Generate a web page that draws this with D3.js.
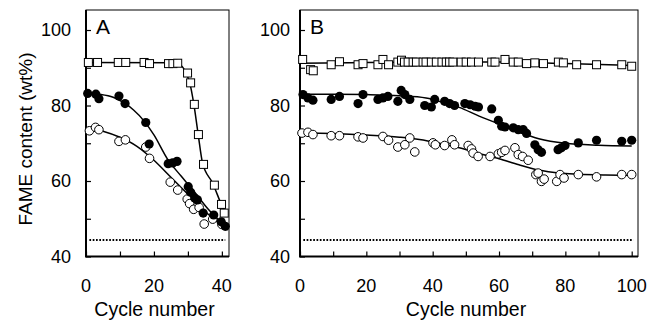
<!DOCTYPE html>
<html>
<head>
<meta charset="utf-8">
<script src="https://d3js.org/d3.v7.min.js"></script>
<style>
  body { margin: 0; background: #fff; }
  svg text { font-family: "Liberation Sans", Arial, sans-serif; fill: #000; }
</style>
</head>
<body>
<svg id="drawing_region"></svg>
<script>
// ---- panel A: open squares, filled circles, open circles ----
const aSquares = [[0.7,91.4],[3.4,91.4],[9.5,91.4],[11.7,91.4],[17.1,91.4],[18.7,91.1],[24.3,91.1],[25.6,91.1],[27,91.2],
                  [29.9,88.6],[30.8,86],[31.9,80.3],[33.1,72.3],[34.6,64.4],[37.8,58.9],[39.9,53.8],[40.7,51.5]];
const aFilled  = [[0.5,83.2],[2.9,83],[3.8,81.8],[9.7,82.5],[11.5,80.5],[17.6,75.5],[18.6,69.8],[24.2,64.6],[25.5,64.8],
                  [26.8,65.2],[30.1,58.5],[30.8,57],[32,55.5],[32.8,55],[34.5,51.5],[37.6,51],[39.8,49.2],[41,48]];
const aOpen    = [[1,73.3],[2.8,74.2],[3.8,73.6],[9.7,70.5],[11.6,70.9],[17.6,69],[18.7,66],[24.8,59.7],[27,57.6],
                  [29.8,55.2],[30.5,54],[31.7,52.5],[33.3,53],[34.8,48.6],[37.3,49.9],[40,48.5]];
const aSquareFit = [[0,91.4],[26,91.3],[28,90.6],[29.5,88.5],[30.6,85.8],[31.7,80.6],[33,72.5],[34.3,64.8],[37.3,59.4],[39.7,54.1],[41.2,51]];
const aFilledFit = [[0,83.3],[4,83],[8,82.2],[11,80.8],[14,78.8],[17,76],[20,72.2],[24,65.8],[28,61.3],[32,57],[36,52.5],[41.2,47.8]];
const aOpenFit   = [[0,74.2],[5,73.2],[10,71.6],[15,69.2],[20,65.5],[25,61],[30,56.5],[35,52],[41.7,47]];

// ---- panel B ----
const bSquares = [[0.8,92.2],[3.2,89.5],[4,89.2],[9.4,90.8],[11.9,91.6],[17.5,90.8],[19,91.1],[23.5,90.8],[25,92.2],[26.7,90.8],
                  [29.5,91.5],[30.6,92],[31.5,91.5],[32.6,91.5],[34.1,91.5],[35.1,91.5],[37.1,91.5],[38,91.5],[39.6,91.5],[41.1,91.5],
                  [42.8,91.5],[44.1,91.5],[45.1,91.5],[46.1,91.5],[48.6,91.5],[50.1,91.5],[51.7,91.5],[53.8,91.5],[57.8,91.5],[58.8,91.5],
                  [61.8,92.2],[64.3,91.5],[65.8,91.5],[68.3,91.1],[70.8,91.3],[73.4,91.1],[77.9,91.5],[79.4,91.3],[83.4,90.8],[89.4,90.8],
                  [97,90.8],[100,90.4]];
const bFilled  = [[0.9,82.9],[2.4,82],[3.9,81.4],[9.4,81.6],[11.9,82.4],[17.5,80.5],[19,82.9],[23.5,81.6],[25,82],[26.5,82.4],
                  [29.5,81.1],[30.5,84],[31.6,82.9],[33.1,81.6],[37.6,80],[39.6,79.6],[40.6,81.6],[43.6,81.1],[45.1,80.5],[46.6,80],
                  [49.7,80.5],[51.3,80.2],[52.8,79.8],[53.8,79.6],[57.8,79.1],[59.8,76.1],[60.8,74.5],[61.8,74.3],[64.3,74.1],[65.8,73.6],
                  [67.3,73.6],[68.3,72.6],[70.8,69.6],[71.8,68.3],[72.8,67.6],[77.8,68.3],[78.8,68.8],[79.9,69.4],[83.9,70.1],[89.4,70.8],
                  [97,70.5],[100,70.8]];
const bOpen    = [[0.6,72.7],[2.4,72.9],[3.9,72.3],[9.4,72],[11.9,72],[17.5,71.7],[19,71.4],[25,71.8],[26.7,70.8],[29.5,69],
                  [31.6,69.6],[33.1,71.4],[34.6,67.7],[40.1,70.1],[40.8,69.6],[43.6,69.4],[45.8,70.9],[46.6,69.6],[50.7,69.4],[51.7,68.5],
                  [52.2,67.4],[53.7,66.5],[57.3,66.5],[59.8,67.2],[60.8,67.6],[61.8,68.1],[64.8,68.8],[65.8,67],[67.1,66.5],[68.8,65.5],
                  [71.1,61.7],[71.8,62.1],[72.8,59.9],[73.6,60.5],[77.4,59.9],[78.4,61.7],[79.6,60.8],[83.9,61.7],[89.4,61.1],[97,61.7],
                  [100,61.7]];
const bSquareFit = [[0,91.2],[20,91.4],[40,91.5],[60,91.5],[80,91.1],[100,90.6]];
const bFilledFit = [[0,83],[10,83],[20,82.9],[30,82.6],[38,82],[44,80.6],[48,79.5],[54,77.2],[58,75.8],[62,74.4],[66,73],[72,71.2],[80,70],[90,69.5],[100,69.3]];
const bOpenFit   = [[0,72.8],[10,72.6],[20,72.2],[30,71.6],[36,71],[42,70],[48,68.8],[54,67.3],[60,65.9],[66,64.3],[72,62.9],[78,62.1],[84,61.8],[92,61.6],[100,61.5]];

// dotted reference level [x start, x end, value]
const aDotted = [1, 41, 44.4];
const bDotted = [1, 100.5, 44.4];

const yTicks = [40, 50, 60, 70, 80, 90, 100];
const yLabels = [40, 60, 80, 100];
const aXTicks = [0, 10, 20, 30, 40];
const aXLabels = [0, 20, 40];
const bXTicks = [0, 10, 20, 30, 40, 50, 60, 70, 80, 90, 100];
const bXLabels = [0, 20, 40, 60, 80, 100];

const svg = d3.select('#drawing_region')
    .attr('width', 648)
    .attr('height', 321);

class Panel {
    constructor (config) {
        this.config = config;
        this.init();
    }

    init() {
        let self = this;
        const c = self.config;

        self.xscale = d3.scaleLinear().domain(c.xdomain).range([c.left, c.right]);
        self.yscale = d3.scaleLinear().domain([40, 105.3]).range([c.bottom, c.top]);

        self.g = svg.append('g');

        // thin frame (top, right)
        self.g.append('rect')
            .attr('x', c.left).attr('y', c.top)
            .attr('width', c.right - c.left).attr('height', c.bottom - c.top)
            .attr('fill', 'none').attr('stroke', '#000').attr('stroke-width', 1);

        // ticks pointing inward
        const yaxis = d3.axisRight(self.yscale).tickValues(yTicks).tickSize(5).tickFormat('');
        self.g.append('g')
            .attr('transform', `translate(${c.left},0)`)
            .call(yaxis)
            .call(g => g.select('.domain').remove())
            .selectAll('line').attr('stroke-width', 1.2);

        const xaxis = d3.axisTop(self.xscale).tickValues(c.xticks).tickSize(5).tickFormat('');
        self.g.append('g')
            .attr('transform', `translate(0,${c.bottom})`)
            .call(xaxis)
            .call(g => g.select('.domain').remove())
            .selectAll('line').attr('stroke-width', 1.2);

        // bold left + bottom spines
        self.g.append('path')
            .attr('d', `M${c.left},${c.top}V${c.bottom}H${c.right}`)
            .attr('fill', 'none').attr('stroke', '#000').attr('stroke-width', 2);

        self.g.selectAll('.ylab')
            .data(yLabels)
            .join('text')
            .attr('class', 'ylab')
            .attr('x', c.left - c.ylabelGap)
            .attr('y', d => self.yscale(d))
            .attr('dy', '0.36em')
            .attr('text-anchor', 'end')
            .style('font-size', '18px')
            .text(d => d);

        self.g.selectAll('.xlab')
            .data(c.xlabels)
            .join('text')
            .attr('class', 'xlab')
            .attr('x', d => self.xscale(d))
            .attr('y', c.bottom + 35)
            .attr('text-anchor', 'middle')
            .style('font-size', '18px')
            .text(d => d);

        self.g.append('text')
            .attr('x', (c.left + c.right) / 2 - 3)
            .attr('y', 316)
            .attr('text-anchor', 'middle')
            .style('font-size', '19.5px')
            .text('Cycle number');

        self.g.append('text')
            .attr('x', c.left + 10)
            .attr('y', 34)
            .style('font-size', '21px')
            .text(c.title);
    }

    render(squares, filled, open, fits, dotted) {
        let self = this;
        const x = self.xscale, y = self.yscale;

        self.g.append('line')
            .attr('x1', x(dotted[0])).attr('x2', x(dotted[1]))
            .attr('y1', y(dotted[2])).attr('y2', y(dotted[2]))
            .attr('stroke', '#000').attr('stroke-width', 2)
            .attr('stroke-dasharray', '1.7,1.6');

        const line = d3.line()
            .x(d => x(d[0]))
            .y(d => y(d[1]))
            .curve(d3.curveMonotoneX);

        self.g.selectAll('.fit')
            .data(fits)
            .join('path')
            .attr('class', 'fit')
            .attr('d', line)
            .attr('fill', 'none')
            .attr('stroke', '#000')
            .attr('stroke-width', 1.5);

        const side = 8;
        self.g.selectAll('.sq')
            .data(squares)
            .join('rect')
            .attr('class', 'sq')
            .attr('x', d => x(d[0]) - side / 2)
            .attr('y', d => y(d[1]) - side / 2)
            .attr('width', side).attr('height', side)
            .attr('fill', '#fff').attr('stroke', '#000').attr('stroke-width', 1);

        self.g.selectAll('.oc')
            .data(open)
            .join('circle')
            .attr('class', 'oc')
            .attr('cx', d => x(d[0])).attr('cy', d => y(d[1]))
            .attr('r', 4.3)
            .attr('fill', '#fff').attr('stroke', '#000').attr('stroke-width', 1);

        self.g.selectAll('.fc')
            .data(filled)
            .join('circle')
            .attr('class', 'fc')
            .attr('cx', d => x(d[0])).attr('cy', d => y(d[1]))
            .attr('r', 4.6)
            .attr('fill', '#000');
    }
}

const panelA = new Panel({ left: 86, right: 229, top: 10, bottom: 256.5, xdomain: [0, 42.1],
                           xticks: aXTicks, xlabels: aXLabels, ylabelGap: 15, title: 'A' });
panelA.render(aSquares, aFilled, aOpen, [aSquareFit, aFilledFit, aOpenFit], aDotted);

const panelB = new Panel({ left: 300, right: 638, top: 10, bottom: 256.5, xdomain: [0, 101.9],
                           xticks: bXTicks, xlabels: bXLabels, ylabelGap: 10, title: 'B' });
panelB.render(bSquares, bFilled, bOpen, [bSquareFit, bFilledFit, bOpenFit], bDotted);

svg.append('text')
    .attr('transform', 'translate(32,139) rotate(-90)')
    .attr('text-anchor', 'middle')
    .style('font-size', '19px')
    .text('FAME content (wt%)');
</script>
</body>
</html>
